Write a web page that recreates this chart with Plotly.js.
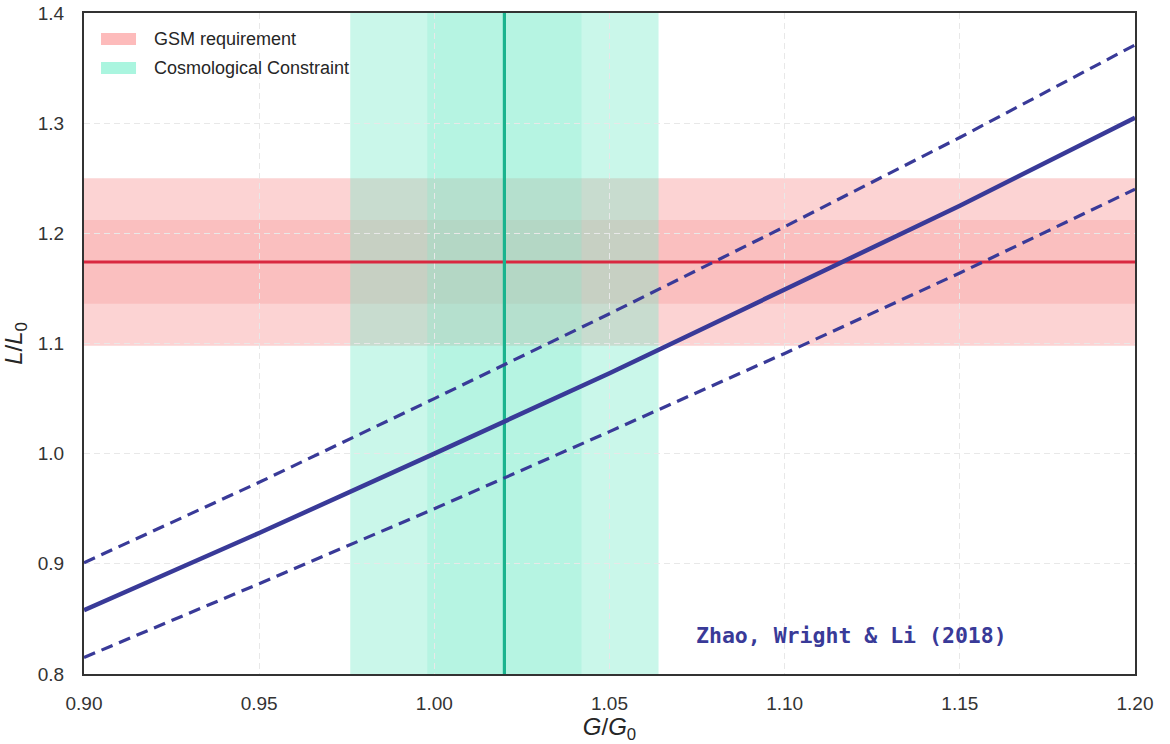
<!DOCTYPE html>
<html>
<head>
<meta charset="utf-8">
<script src="https://cdn.plot.ly/plotly-3.0.1.min.js"></script>
<style>html,body{margin:0;padding:0;background:#fff;}#chart{width:1170px;height:744px;}</style>
</head>
<body>
<div id="chart"></div>
<script>
// ---- data ----
const gRatio      = [0.90, 0.95, 1.00, 1.05, 1.10, 1.15, 1.20];
const lumCentral  = [0.858, 0.928, 1.000, 1.073, 1.149, 1.225, 1.305];
const lumUpper    = [0.901, 0.974, 1.050, 1.127, 1.206, 1.287, 1.371];
const lumLower    = [0.815, 0.882, 0.950, 1.020, 1.091, 1.164, 1.240];

const gsmCenter   = 1.174;   // GSM requirement L/L0
const gsmInner    = 0.038;   // half-width, inner band
const gsmOuter    = 0.076;   // half-width, outer band

const cosmoCenter = 1.020;   // cosmological constraint G/G0
const cosmoInner  = 0.022;
const cosmoOuter  = 0.044;

const xTicks = [0.90, 0.95, 1.00, 1.05, 1.10, 1.15, 1.20];
const xTickLabels = ['0.90', '0.95', '1.00', '1.05', '1.10', '1.15', '1.20'];
const yTicks = [0.8, 0.9, 1.0, 1.1, 1.2, 1.3, 1.4];
const yTickLabels = ['0.8', '0.9', '1.0', '1.1', '1.2', '1.3', '1.4'];
const legendLabels = ['GSM requirement', 'Cosmological Constraint'];
const creditText = 'Zhao, Wright & Li (2018)';
const creditPos = [1.1192, 0.835];

const xRange = [0.90, 1.20];
const yRange = [0.80, 1.40];

// ---- styles ----
const blue = '#393a98';
const redLine = '#d92840';
const greenLine = '#1ab38e';
const redFill = 'rgba(245,120,120,0.33)';
const redFill2 = 'rgba(245,120,120,0.21)';
const greenFill = 'rgba(122,235,202,0.40)';
const greenFill2 = 'rgba(122,235,202,0.25)';
const textFont = 'Liberation Sans, Arial, sans-serif';

const traces = [
  {x: xRange, y: [gsmCenter, gsmCenter], mode: 'lines', line: {color: redLine, width: 3}, hoverinfo: 'skip'},
  {x: [cosmoCenter, cosmoCenter], y: yRange, mode: 'lines', line: {color: greenLine, width: 3.2}, hoverinfo: 'skip'},
  {x: gRatio, y: lumUpper, mode: 'lines', line: {color: blue, width: 3.2, dash: '12px,7px'}},
  {x: gRatio, y: lumLower, mode: 'lines', line: {color: blue, width: 3.2, dash: '12px,7px'}},
  {x: gRatio, y: lumCentral, mode: 'lines', line: {color: blue, width: 4.5}}
];

const shapes = [
  {type: 'rect', xref: 'x domain', yref: 'y', x0: 0, x1: 1, y0: gsmCenter - gsmOuter, y1: gsmCenter + gsmOuter, fillcolor: redFill, line: {width: 0}, layer: 'below'},
  {type: 'rect', xref: 'x domain', yref: 'y', x0: 0, x1: 1, y0: gsmCenter - gsmInner, y1: gsmCenter + gsmInner, fillcolor: redFill2, line: {width: 0}, layer: 'below'},
  {type: 'rect', xref: 'x', yref: 'y domain', x0: cosmoCenter - cosmoOuter, x1: cosmoCenter + cosmoOuter, y0: 0, y1: 1, fillcolor: greenFill, line: {width: 0}, layer: 'below'},
  {type: 'rect', xref: 'x', yref: 'y domain', x0: cosmoCenter - cosmoInner, x1: cosmoCenter + cosmoInner, y0: 0, y1: 1, fillcolor: greenFill2, line: {width: 0}, layer: 'below'},
  // legend patches
  {type: 'rect', xref: 'paper', yref: 'paper', x0: 0.0162, x1: 0.0495, y0: 0.9516, y1: 0.9697, fillcolor: '#fdbbbb', line: {width: 0}},
  {type: 'rect', xref: 'paper', yref: 'paper', x0: 0.0162, x1: 0.0495, y0: 0.9077, y1: 0.9259, fillcolor: '#aaf5df', line: {width: 0}}
];

const annotations = [
  {xref: 'paper', yref: 'paper', x: 0.0647, y: 0.9606, xanchor: 'left', yanchor: 'middle', text: legendLabels[0], showarrow: false, font: {family: textFont, size: 18, color: '#262626'}},
  {xref: 'paper', yref: 'paper', x: 0.0647, y: 0.9168, xanchor: 'left', yanchor: 'middle', text: legendLabels[1], showarrow: false, font: {family: textFont, size: 18, color: '#262626'}},
  {xref: 'x', yref: 'y', x: creditPos[0], y: creditPos[1], xanchor: 'center', yanchor: 'middle', text: '<b>' + creditText.replace('&', '&amp;') + '</b>', showarrow: false, font: {family: 'DejaVu Sans Mono, monospace', size: 21.5, color: blue}}
];

const axisCommon = {
  showline: true, mirror: true, linecolor: '#333333', linewidth: 2,
  showgrid: true, gridcolor: '#e8e8e8', griddash: '6px,4px', gridwidth: 1.2,
  zeroline: false, ticks: '',
  tickfont: {family: textFont, size: 19, color: '#333333'}
};

const layout = {
  width: 1170, height: 744,
  margin: {l: 84, r: 35, t: 13, b: 70, pad: 0},
  paper_bgcolor: '#ffffff', plot_bgcolor: '#ffffff',
  showlegend: false,
  xaxis: Object.assign({}, axisCommon, {
    range: xRange, tickmode: 'array', tickvals: xTicks, ticktext: xTickLabels,
    ticklabelstandoff: 11,
    title: {text: '<i>G</i>/<i>G</i><sub>0</sub>', font: {family: textFont, size: 24, color: '#262626'}, standoff: 8}
  }),
  yaxis: Object.assign({}, axisCommon, {
    range: yRange, tickmode: 'array', tickvals: yTicks, ticktext: yTickLabels,
    ticklabelstandoff: 14,
    title: {text: '<i>L</i>/<i>L</i><sub>0</sub>', font: {family: textFont, size: 24, color: '#262626'}, standoff: 10}
  }),
  shapes: shapes,
  annotations: annotations
};

Plotly.newPlot('chart', traces, layout, {displayModeBar: false, staticPlot: true});
</script>
</body>
</html>
